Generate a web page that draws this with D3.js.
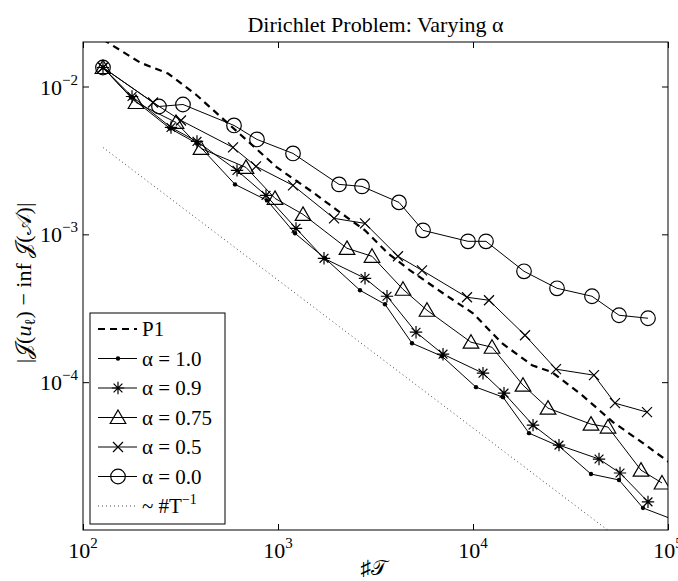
<!DOCTYPE html>
<html><head><meta charset="utf-8">
<script src="https://cdn.jsdelivr.net/npm/d3@7"></script>
<style>body{margin:0;background:#fff}svg{display:block}</style>
</head><body>
<svg id="c" width="678" height="581"></svg>
<script>
// ---------- data ----------
const titleText = "Dirichlet Problem: Varying α";
const xTickValues = [100, 1000, 10000, 100000];
const xTickExps = ["2", "3", "4", "5"];
const yTickValues = [1e-2, 1e-3, 1e-4];
const yTickExps = ["−2", "−3", "−4"];

const p1X = [126.6, 196.1, 272.9, 384.2, 693.4, 988.3, 1512, 2080, 2794, 3665, 4753, 7018, 10000, 14080, 20080, 25420, 36220, 52220, 74440, 115200];
const p1Y = [0.0208, 0.01453, 0.01224, 0.008693, 0.004315, 0.002836, 0.001922, 0.001408, 0.001064, 0.0007439, 0.0005709, 0.0003995, 0.0002925, 0.0001834, 0.0001302, 0.0001168, 0.0000817, 0.0000537, 0.0000387, 0.0000254];

const a10X = [126.6, 176.3, 279.4, 384.2, 602.0, 878.1, 1222.4, 1741.8, 2633.5, 3537.4, 4867, 6935, 10361, 14249, 19377, 27608, 40285, 56080, 74440, 115200];
const a10Y = [0.01344, 0.008428, 0.005202, 0.004120, 0.002177, 0.001697, 0.001016, 0.0006884, 0.0004183, 0.0003365, 0.0001834, 0.0001498, 0.0000925, 0.0000792, 0.0000452, 0.0000369, 0.0000239, 0.0000218, 0.0000141, 0.0000113];

const a09X = [126.6, 178.4, 282.7, 384.2, 616.3, 867.9, 1237, 1721.4, 2794, 3622, 5103, 7018, 11253, 14421, 20316, 27608, 44290, 56740, 78960];
const a09Y = [0.01344, 0.008558, 0.005284, 0.004250, 0.002706, 0.001834, 0.001098, 0.0006884, 0.0005043, 0.0003811, 0.0002177, 0.0001546, 0.0001150, 0.0000843, 0.0000512, 0.0000375, 0.0000302, 0.0000243, 0.0000155];

const a075X = [126.6, 187.0, 299.9, 402.8, 685.3, 965.2, 1343.6, 2258.7, 3034.5, 4375, 5809, 9766, 12518, 18050, 24245, 40285, 49250, 72700, 93160];
const a075Y = [0.01344, 0.007796, 0.005712, 0.003811, 0.002836, 0.001750, 0.001365, 0.0008042, 0.0007103, 0.0004250, 0.0003065, 0.0001863, 0.0001723, 0.0000954, 0.0000667, 0.0000520, 0.0000497, 0.0000254, 0.0000208];

const a05X = [126.6, 228.6, 318.0, 587.9, 771.3, 1193.9, 1938, 2794, 4124, 5476, 9316, 12082, 18485, 26650, 41730, 53470, 78040];
const a05Y = [0.01344, 0.007796, 0.005892, 0.003871, 0.002881, 0.002143, 0.001282, 0.001186, 0.0007103, 0.0005709, 0.0003753, 0.0003581, 0.0002077, 0.0001224, 0.0001115, 0.0000721, 0.0000627];

const a00X = [126.6, 245.3, 325.6, 594.9, 780.4, 1193.9, 2055.7, 2696.7, 4173, 5541, 9428, 11659, 18265, 26967, 40760, 56080, 78960];
const a00Y = [0.01344, 0.007326, 0.007557, 0.005452, 0.004384, 0.003526, 0.002177, 0.002110, 0.001645, 0.001064, 0.0008968, 0.0008968, 0.0005623, 0.0004315, 0.0003811, 0.0002836, 0.0002706];

const refX = [126.6, 100000];
const refC = 0.49; // reference ~ #T^-1
const refY = refX.map(v => refC / v);

const legendLabels = ["P1", "α = 1.0", "α = 0.9", "α = 0.75", "α = 0.5", "α = 0.0"];

// ---------- layout ----------
const L = 83, R = 668, T = 42, B = 530;
const x = d3.scaleLog().domain([100, 1e5]).range([L, R]);
const y = d3.scaleLog().domain([1e-5, 0.02]).range([B, T]);
const svg = d3.select("#c");
const serif = "'Liberation Serif','Times New Roman',serif";

svg.append("defs").append("clipPath").attr("id", "clip")
  .append("rect").attr("x", L).attr("y", T).attr("width", R - L).attr("height", B - T);

const zip = (xs, ys) => xs.map((v, i) => [v, ys[i]]);
const line = d3.line().x(d => x(d[0])).y(d => y(d[1]));

const series = [
  {name: "P1", data: zip(p1X, p1Y), marker: null, dash: "7,5", w: 2.2},
  {name: "a10", data: zip(a10X, a10Y), marker: "dot", dash: null, w: 1},
  {name: "a09", data: zip(a09X, a09Y), marker: "star", dash: null, w: 1},
  {name: "a075", data: zip(a075X, a075Y), marker: "tri", dash: null, w: 1},
  {name: "a05", data: zip(a05X, a05Y), marker: "x", dash: null, w: 1},
  {name: "a00", data: zip(a00X, a00Y), marker: "circ", dash: null, w: 1}
];

function drawMarker(g, type, cx, cy) {
  if (type === "dot") {
    g.append("circle").attr("cx", cx).attr("cy", cy).attr("r", 2.2).attr("fill", "#000");
  } else if (type === "star") {
    const s = 6.2, k = 4.4;
    g.append("path").attr("d", `M${cx},${cy - s}V${cy + s}M${cx - s},${cy}H${cx + s}M${cx - k},${cy - k}L${cx + k},${cy + k}M${cx - k},${cy + k}L${cx + k},${cy - k}`)
      .attr("stroke", "#000").attr("stroke-width", 1.2).attr("fill", "none");
  } else if (type === "tri") {
    g.append("path").attr("d", `M${cx},${cy - 7.5}L${cx + 7.8},${cy + 6}L${cx - 7.8},${cy + 6}Z`)
      .attr("stroke", "#000").attr("stroke-width", 1.2).attr("fill", "none");
  } else if (type === "x") {
    const k = 5;
    g.append("path").attr("d", `M${cx - k},${cy - k}L${cx + k},${cy + k}M${cx - k},${cy + k}L${cx + k},${cy - k}`)
      .attr("stroke", "#000").attr("stroke-width", 1.2).attr("fill", "none");
  } else if (type === "circ") {
    g.append("circle").attr("cx", cx).attr("cy", cy).attr("r", 7.3)
      .attr("stroke", "#000").attr("stroke-width", 1.2).attr("fill", "none");
  }
}

// reference line
svg.append("path").datum(zip(refX, refY)).attr("d", line)
  .attr("clip-path", "url(#clip)").attr("fill", "none")
  .attr("stroke", "#444").attr("stroke-width", 1).attr("stroke-dasharray", "1,3");

// series
series.forEach(s => {
  svg.append("path").datum(s.data).attr("d", line)
    .attr("clip-path", "url(#clip)").attr("fill", "none")
    .attr("stroke", "#000").attr("stroke-width", s.w)
    .attr("stroke-dasharray", s.dash);
  if (s.marker) {
    const g = svg.append("g").attr("clip-path", "url(#clip)");
    s.data.forEach(d => drawMarker(g, s.marker, x(d[0]), y(d[1])));
  }
});

// axes (ticks inward on all sides)
const axB = svg.append("g").attr("transform", `translate(0,${B})`)
  .call(d3.axisBottom(x).tickValues(xTickValues).tickSize(-6).tickFormat(() => ""));
const axT = svg.append("g").attr("transform", `translate(0,${T})`)
  .call(d3.axisTop(x).tickValues(xTickValues).tickSize(-6).tickFormat(() => ""));
const axL = svg.append("g").attr("transform", `translate(${L},0)`)
  .call(d3.axisLeft(y).tickValues(yTickValues).tickSize(-6).tickFormat(() => ""));
const axR = svg.append("g").attr("transform", `translate(${R},0)`)
  .call(d3.axisRight(y).tickValues(yTickValues).tickSize(-6).tickFormat(() => ""));
[axB, axT, axL, axR].forEach(a => {
  a.select(".domain").remove();
  a.selectAll("line").attr("stroke", "#000").attr("stroke-width", 1);
});
svg.append("rect").attr("x", L).attr("y", T).attr("width", R - L).attr("height", B - T)
  .attr("fill", "none").attr("stroke", "#000").attr("stroke-width", 1);

// tick labels
const tickFont = 22;
xTickValues.forEach((v, i) => {
  const t = svg.append("text").attr("x", x(v)).attr("y", 558).attr("text-anchor", "middle")
    .attr("font-family", serif).attr("font-size", tickFont).attr("fill", "#000");
  t.append("tspan").text("10");
  t.append("tspan").attr("dy", -10).attr("font-size", 15).text(xTickExps[i]);
});
yTickValues.forEach((v, i) => {
  const t = svg.append("text").attr("x", 78).attr("y", y(v) + 8).attr("text-anchor", "end")
    .attr("font-family", serif).attr("font-size", tickFont).attr("fill", "#000");
  t.append("tspan").text("10");
  t.append("tspan").attr("dy", -10).attr("font-size", 15).text(yTickExps[i]);
});

// title
svg.append("text").attr("x", (L + R) / 2).attr("y", 32).attr("text-anchor", "middle")
  .attr("font-family", serif).attr("font-size", 22).attr("fill", "#000").text(titleText);

// axis labels
svg.append("text").attr("x", (L + R) / 2 - 2).attr("y", 575).attr("text-anchor", "middle")
  .attr("font-family", serif).attr("font-size", 21).attr("fill", "#000").text("♯𝒯");
const yl = svg.append("text").attr("transform", `translate(31,283) rotate(-90)`).attr("text-anchor", "middle")
  .attr("font-family", serif).attr("font-size", 22).attr("fill", "#000");
yl.append("tspan").text("|𝒥(");
yl.append("tspan").attr("font-style", "italic").text("u");
yl.append("tspan").attr("font-size", 15).attr("dy", 4).text("ℓ");
yl.append("tspan").attr("dy", -4).text(") − inf 𝒥(𝒜)|");

// legend
const lg = svg.append("g");
lg.append("rect").attr("x", 90).attr("y", 313).attr("width", 135).attr("height", 211)
  .attr("fill", "#fff").attr("stroke", "#000").attr("stroke-width", 1);
const rowY = [329, 358.5, 388, 417.5, 447, 476.5, 506];
const legFont = 21;
series.forEach((s, i) => {
  const yy = rowY[i];
  lg.append("line").attr("x1", 98).attr("x2", 137).attr("y1", yy).attr("y2", yy)
    .attr("stroke", "#000").attr("stroke-width", s.w).attr("stroke-dasharray", s.dash);
  if (s.marker) drawMarker(lg, s.marker, 118, yy);
  lg.append("text").attr("x", 142).attr("y", yy + 7).attr("font-family", serif)
    .attr("font-size", legFont).attr("fill", "#000").text(legendLabels[i]);
});
lg.append("line").attr("x1", 98).attr("x2", 137).attr("y1", rowY[6]).attr("y2", rowY[6])
  .attr("stroke", "#444").attr("stroke-width", 1).attr("stroke-dasharray", "1,3");
const rt = lg.append("text").attr("x", 142).attr("y", rowY[6] + 7).attr("font-family", serif)
  .attr("font-size", legFont).attr("fill", "#000");
rt.append("tspan").text("~ #T");
rt.append("tspan").attr("dy", -9).attr("font-size", 14).text("−1");
</script>
</body></html>
